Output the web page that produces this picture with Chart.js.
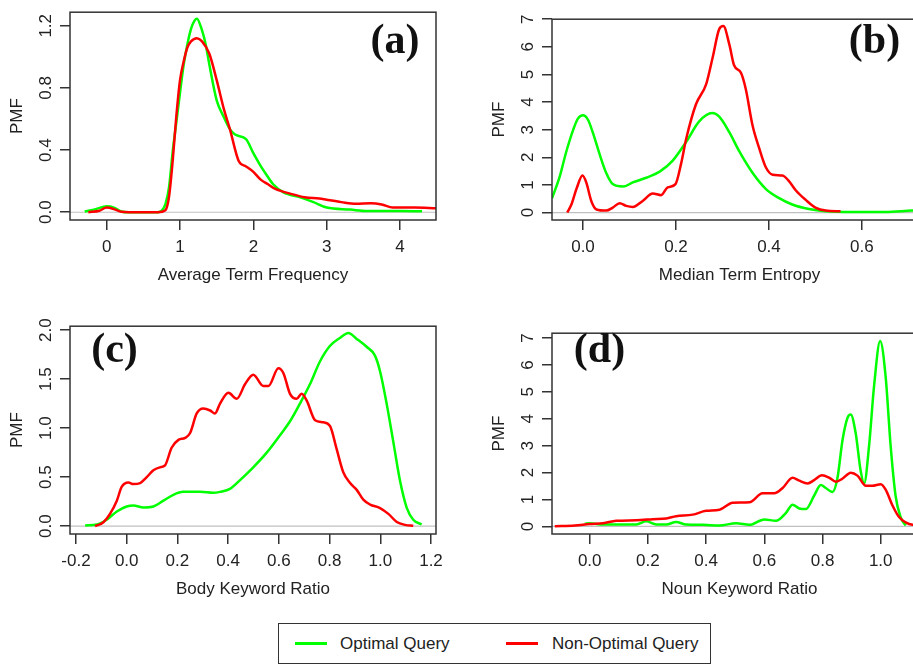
<!DOCTYPE html>
<html>
<head>
<meta charset="utf-8">
<script src="https://cdn.jsdelivr.net/npm/chart.js@4.4.1/dist/chart.umd.min.js"></script>
<style>
  body { margin: 0; background: #fff; width: 913px; height: 667px; overflow: hidden; position: relative;
         font-family: "Liberation Sans", Arial, sans-serif; color: #222; }
  canvas { position: absolute; }
  .box { position: absolute; left: 278px; top: 623px; width: 433px; height: 41px; border: 1.5px solid #333; box-sizing: border-box; }
  .sw { position: absolute; height: 2.5px; top: 642px; width: 32px; }
  .lt { position: absolute; top: 635px; font-size: 17px; line-height: 17px; white-space: nowrap; }
</style>
</head>
<body>
<canvas id="pa" width="456" height="300" style="left:0;top:0"></canvas>
<canvas id="pb" width="460" height="300" style="left:482px;top:0"></canvas>
<canvas id="pc" width="456" height="300" style="left:0;top:314px"></canvas>
<canvas id="pd" width="460" height="300" style="left:482px;top:314px"></canvas>

<div class="box"></div>
<span class="sw" style="left:295px;background:#00ff00"></span>
<span class="lt" style="left:340px">Optimal Query</span>
<span class="sw" style="left:506px;background:#ff0000"></span>
<span class="lt" style="left:552px">Non-Optimal Query</span>

<script>
// (a) Average Term Frequency
const aOptX = [-0.3, -0.15, 0, 0.1, 0.2, 0.3, 0.5, 0.7, 0.75, 0.8, 0.85, 0.9, 0.95, 1.0, 1.05, 1.1, 1.15, 1.2, 1.23, 1.3, 1.35, 1.4, 1.5, 1.6, 1.68, 1.75, 1.9, 2.0, 2.09, 2.18, 2.27, 2.41, 2.64, 2.82, 3.0, 3.32, 3.55, 4.0, 4.3];
const aOptY = [0.005, 0.02, 0.038, 0.03, 0.005, 0, 0, 0, 0.01, 0.05, 0.16, 0.39, 0.58, 0.77, 0.95, 1.08, 1.18, 1.235, 1.246, 1.17, 1.08, 0.95, 0.72, 0.61, 0.535, 0.5, 0.47, 0.38, 0.305, 0.24, 0.18, 0.128, 0.096, 0.065, 0.03, 0.017, 0.008, 0.008, 0.006];
const aNonX = [-0.25, -0.1, 0, 0.1, 0.2, 0.3, 0.5, 0.7, 0.8, 0.85, 0.9, 0.95, 1.0, 1.05, 1.1, 1.15, 1.23, 1.3, 1.4, 1.5, 1.6, 1.68, 1.8, 1.9, 2.0, 2.1, 2.2, 2.3, 2.5, 2.7, 2.9, 3.0, 3.2, 3.4, 3.6, 3.75, 3.9, 4.2, 4.49];
const aNonY = [0, 0.01, 0.03, 0.02, 0.003, 0, 0, 0, 0.013, 0.1, 0.33, 0.62, 0.85, 0.97, 1.06, 1.10, 1.12, 1.10, 1.02, 0.85, 0.66, 0.535, 0.33, 0.295, 0.26, 0.21, 0.18, 0.15, 0.12, 0.096, 0.088, 0.08, 0.065, 0.054, 0.058, 0.05, 0.03, 0.03, 0.025];

// (b) Median Term Entropy
const bOptX = [-0.0665, -0.05, -0.036, -0.021, -0.011, 0, 0.011, 0.021, 0.036, 0.05, 0.064, 0.086, 0.107, 0.136, 0.165, 0.193, 0.222, 0.25, 0.278, 0.293, 0.315, 0.336, 0.365, 0.393, 0.422, 0.45, 0.486, 0.522, 0.579, 0.651, 0.708, 0.74];
const bOptY = [0.52, 1.31, 2.2, 3.0, 3.4, 3.52, 3.35, 2.9, 2.1, 1.43, 1.03, 0.94, 1.09, 1.26, 1.48, 1.88, 2.56, 3.3, 3.6, 3.47, 2.9, 2.22, 1.43, 0.86, 0.52, 0.29, 0.125, 0.045, 0.02, 0.02, 0.07, 0.08];
const bNonX = [-0.034, -0.025, -0.014, -0.001, 0.007, 0.018, 0.029, 0.05, 0.064, 0.079, 0.093, 0.107, 0.129, 0.15, 0.168, 0.182, 0.199, 0.211, 0.222, 0.243, 0.265, 0.279, 0.293, 0.302, 0.315, 0.325, 0.34, 0.35, 0.365, 0.379, 0.393, 0.408, 0.429, 0.443, 0.458, 0.479, 0.5, 0.522, 0.554];
const bNonY = [0, 0.29, 0.86, 1.34, 1.09, 0.41, 0.11, 0.07, 0.18, 0.34, 0.24, 0.2, 0.43, 0.69, 0.63, 0.91, 1.03, 1.77, 2.67, 3.92, 4.65, 5.62, 6.64, 6.75, 6.07, 5.33, 5.05, 4.48, 3.13, 2.33, 1.65, 1.37, 1.34, 1.14, 0.8, 0.46, 0.18, 0.07, 0.045];

// (c) Body Keyword Ratio
const cOptX = [-0.164, -0.118, -0.079, -0.039, 0, 0.026, 0.066, 0.105, 0.145, 0.184, 0.223, 0.289, 0.342, 0.368, 0.407, 0.447, 0.499, 0.552, 0.605, 0.644, 0.683, 0.723, 0.762, 0.802, 0.841, 0.874, 0.907, 0.946, 0.979, 0.999, 1.025, 1.052, 1.078, 1.104, 1.13, 1.163];
const cOptY = [0.007, 0.017, 0.066, 0.15, 0.2, 0.21, 0.19, 0.2, 0.26, 0.32, 0.35, 0.35, 0.34, 0.35, 0.38, 0.47, 0.6, 0.75, 0.93, 1.07, 1.25, 1.45, 1.68, 1.84, 1.92, 1.97, 1.91, 1.83, 1.74, 1.58, 1.25, 0.85, 0.46, 0.19, 0.066, 0.017];
const cNonX = [-0.125, -0.092, -0.066, -0.039, -0.02, 0.007, 0.026, 0.053, 0.079, 0.105, 0.131, 0.151, 0.177, 0.204, 0.23, 0.25, 0.276, 0.302, 0.329, 0.348, 0.368, 0.401, 0.434, 0.467, 0.499, 0.539, 0.559, 0.598, 0.618, 0.644, 0.67, 0.69, 0.71, 0.743, 0.775, 0.802, 0.828, 0.854, 0.881, 0.907, 0.933, 0.96, 0.999, 1.032, 1.065, 1.098, 1.13];
const cNonY = [0, 0.04, 0.125, 0.26, 0.4, 0.445, 0.43, 0.44, 0.5, 0.57, 0.6, 0.62, 0.8, 0.88, 0.9, 0.95, 1.15, 1.2, 1.18, 1.15, 1.25, 1.36, 1.3, 1.45, 1.545, 1.43, 1.43, 1.61, 1.56, 1.35, 1.3, 1.35, 1.28, 1.08, 1.06, 1.02, 0.785, 0.55, 0.44, 0.37, 0.27, 0.22, 0.185, 0.125, 0.043, 0.013, 0.003];

// (d) Noun Keyword Ratio
const dOptX = [-0.017, 0, 0.046, 0.103, 0.16, 0.194, 0.229, 0.263, 0.297, 0.331, 0.389, 0.446, 0.503, 0.549, 0.6, 0.64, 0.674, 0.697, 0.72, 0.743, 0.771, 0.794, 0.811, 0.834, 0.851, 0.869, 0.886, 0.897, 0.914, 0.931, 0.943, 0.96, 0.977, 0.998, 1.017, 1.034, 1.051, 1.069, 1.086];
const dOptY = [0.1, 0.12, 0.07, 0.07, 0.07, 0.19, 0.07, 0.07, 0.17, 0.07, 0.06, 0.035, 0.12, 0.06, 0.26, 0.21, 0.5, 0.81, 0.67, 0.65, 1.14, 1.54, 1.43, 1.28, 1.78, 3.23, 4.04, 4.16, 3.46, 2.07, 1.6, 3.0, 5.2, 6.89, 5.55, 3.0, 1.14, 0.33, 0.035];
const dNonX = [-0.12, -0.051, 0, 0.046, 0.091, 0.16, 0.217, 0.263, 0.297, 0.354, 0.4, 0.446, 0.491, 0.549, 0.594, 0.634, 0.663, 0.697, 0.72, 0.749, 0.771, 0.798, 0.823, 0.846, 0.869, 0.897, 0.92, 0.949, 0.971, 1.0, 1.017, 1.04, 1.063, 1.086, 1.109, 1.16];
const dNonY = [0.01, 0.035, 0.09, 0.12, 0.21, 0.23, 0.27, 0.3, 0.38, 0.44, 0.58, 0.62, 0.88, 0.9, 1.23, 1.23, 1.43, 1.81, 1.7, 1.6, 1.72, 1.9, 1.81, 1.66, 1.78, 2.0, 1.89, 1.51, 1.51, 1.57, 1.37, 0.79, 0.35, 0.15, 0.06, 0.03];

// tick values and labels
const aXTicks = [0, 1, 2, 3, 4], aXLabels = ['0', '1', '2', '3', '4'];
const aYTicks = [0, 0.4, 0.8, 1.2], aYLabels = ['0.0', '0.4', '0.8', '1.2'];
const bXTicks = [0, 0.2, 0.4, 0.6], bXLabels = ['0.0', '0.2', '0.4', '0.6'];
const bYTicks = [0, 1, 2, 3, 4, 5, 6, 7], bYLabels = ['0', '1', '2', '3', '4', '5', '6', '7'];
const cXTicks = [-0.2, 0, 0.2, 0.4, 0.6, 0.8, 1.0, 1.2], cXLabels = ['-0.2', '0.0', '0.2', '0.4', '0.6', '0.8', '1.0', '1.2'];
const cYTicks = [0, 0.5, 1.0, 1.5, 2.0], cYLabels = ['0.0', '0.5', '1.0', '1.5', '2.0'];
const dXTicks = [0, 0.2, 0.4, 0.6, 0.8, 1.0], dXLabels = ['0.0', '0.2', '0.4', '0.6', '0.8', '1.0'];
const dYTicks = [0, 1, 2, 3, 4, 5, 6, 7], dYLabels = ['0', '1', '2', '3', '4', '5', '6', '7'];

const GREEN = '#00ff00';
const RED = '#ff0000';

Chart.defaults.font.family = '"Liberation Sans", Arial, sans-serif';
Chart.defaults.font.size = 17;
Chart.defaults.color = '#222';

function pts(xs, ys) {
  return xs.map((x, i) => ({ x: x, y: ys[i] }));
}

// R style box, grey zero line and panel tag
const rBox = {
  id: 'rbox',
  beforeDatasetsDraw(chart) {
    const { ctx, chartArea: a, scales: { y } } = chart;
    const y0 = y.getPixelForValue(0);
    ctx.save();
    ctx.strokeStyle = '#c0c0c0';
    ctx.lineWidth = 1.2;
    ctx.beginPath();
    ctx.moveTo(a.left, y0);
    ctx.lineTo(a.right, y0);
    ctx.stroke();
    ctx.restore();
  },
  afterDraw(chart, args, opts) {
    const { ctx, chartArea: a } = chart;
    ctx.save();
    ctx.strokeStyle = '#333';
    ctx.lineWidth = 1.5;
    ctx.strokeRect(a.left, a.top, a.right - a.left, a.bottom - a.top);
    ctx.font = 'bold 42px "Liberation Serif", "Times New Roman", serif';
    ctx.fillStyle = '#111';
    ctx.textAlign = 'center';
    ctx.textBaseline = 'alphabetic';
    ctx.fillText(opts.tag, opts.tx, opts.ty);
    ctx.restore();
  }
};

function makePanel(id, p) {
  new Chart(document.getElementById(id), {
    type: 'line',
    data: {
      datasets: [
        { data: pts(p.nonX, p.nonY), borderColor: RED, borderWidth: 2.5 },
        { data: pts(p.optX, p.optY), borderColor: GREEN, borderWidth: 2.5 }
      ]
    },
    options: {
      responsive: false,
      animation: false,
      parsing: false,
      elements: { point: { radius: 0 }, line: { cubicInterpolationMode: 'monotone' } },
      layout: { padding: { left: 0, top: 6, right: p.padRight, bottom: 0 } },
      plugins: {
        legend: { display: false },
        tooltip: { enabled: false },
        rbox: { tag: p.tag, tx: p.tx, ty: p.ty }
      },
      scales: {
        x: {
          type: 'linear',
          min: p.xMin,
          max: p.xMax,
          afterBuildTicks: s => { s.ticks = p.xTicks.map(v => ({ value: v })); },
          afterFit: s => { s.height = 80; },
          ticks: { callback: (v, i) => p.xLabels[i], padding: 7, maxRotation: 0, autoSkip: false },
          grid: { drawOnChartArea: false, tickLength: 10, color: '#333', lineWidth: 1.5 },
          border: { display: false },
          title: { display: true, text: p.xTitle, padding: { top: 0, bottom: 14 } }
        },
        y: {
          type: 'linear',
          min: p.yMin,
          max: p.yMax,
          afterBuildTicks: s => { s.ticks = p.yTicks.map(v => ({ value: v })); },
          afterFit: s => { s.width = 70; },
          ticks: { callback: (v, i) => p.yLabels[i], padding: p.yPad, minRotation: 90, maxRotation: 90, crossAlign: 'center', autoSkip: false },
          grid: { drawOnChartArea: false, tickLength: 10, color: '#333', lineWidth: 1.5 },
          border: { display: false },
          title: { display: true, text: 'PMF', padding: { top: 7, bottom: 0 } }
        }
      }
    },
    plugins: [rBox]
  });
}

makePanel('pa', {
  optX: aOptX, optY: aOptY, nonX: aNonX, nonY: aNonY,
  xMin: -0.5, xMax: 4.49, yMin: -0.05, yMax: 1.2875,
  xTicks: aXTicks, xLabels: aXLabels, yTicks: aYTicks, yLabels: aYLabels,
  xTitle: 'Average Term Frequency', padRight: 20, yPad: 2,
  tag: '(a)', tx: 395, ty: 52.5
});
makePanel('pb', {
  optX: bOptX, optY: bOptY, nonX: bNonX, nonY: bNonY,
  xMin: -0.0667, xMax: 0.74, yMin: -0.27, yMax: 7.0,
  xTicks: bXTicks, xLabels: bXLabels, yTicks: bYTicks, yLabels: bYLabels,
  xTitle: 'Median Term Entropy', padRight: 15, yPad: 9,
  tag: '(b)', tx: 392.5, ty: 52.5
});
makePanel('pc', {
  optX: cOptX, optY: cOptY, nonX: cNonX, nonY: cNonY,
  xMin: -0.2237, xMax: 1.2197, yMin: -0.08, yMax: 2.04,
  xTicks: cXTicks, xLabels: cXLabels, yTicks: cYTicks, yLabels: cYLabels,
  xTitle: 'Body Keyword Ratio', padRight: 20, yPad: 2,
  tag: '(c)', tx: 114.5, ty: 47.7
});
makePanel('pd', {
  optX: dOptX, optY: dOptY, nonX: dNonX, nonY: dNonY,
  xMin: -0.1296, xMax: 1.159, yMin: -0.28, yMax: 7.18,
  xTicks: dXTicks, xLabels: dXLabels, yTicks: dYTicks, yLabels: dYLabels,
  xTitle: 'Noun Keyword Ratio', padRight: 15, yPad: 9,
  tag: '(d)', tx: 117.5, ty: 48.3
});
</script>
</body>
</html>
